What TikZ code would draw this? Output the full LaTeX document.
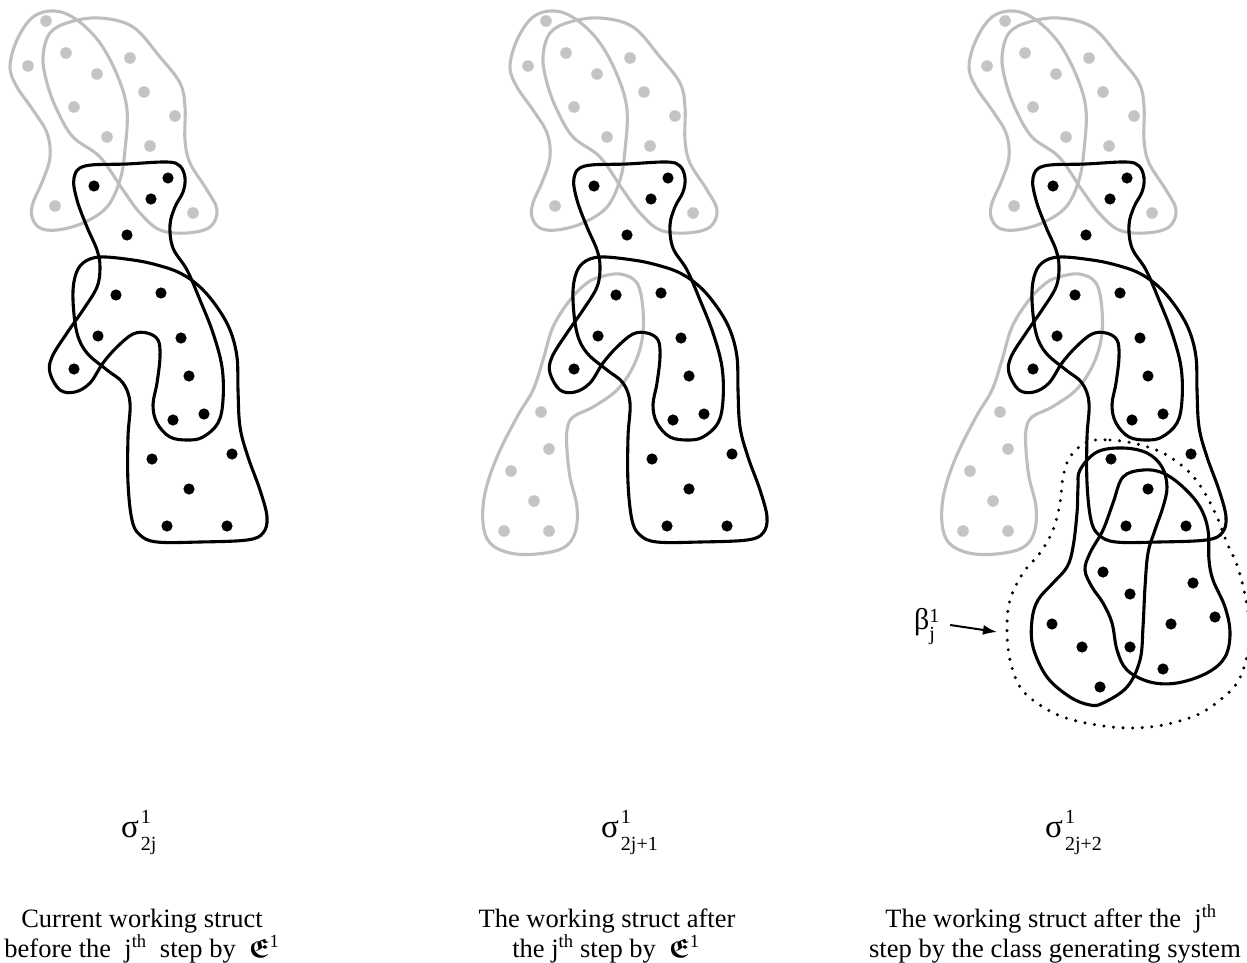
\documentclass[tikz,border=0pt]{standalone}
\usepackage{amsmath,amssymb}
\usepackage{fontspec}
\setmainfont{Liberation Serif}
\usetikzlibrary{arrows.meta,calc}
\definecolor{lightgr}{RGB}{190,190,190}
\definecolor{dotgr}{RGB}{196,196,196}
\newcommand\fkE{$\boldsymbol{\mathfrak{E}}$\textsuperscript{1}}
\newcommand\sigmalab[1]{{\fontsize{33}{33}\selectfont σ}\hspace{2pt}\rlap{\raisebox{14pt}{\fontsize{20}{20}\selectfont 1}}\raisebox{-13pt}{\fontsize{20}{20}\selectfont #1}}
\tikzset{
  blob/.style={draw=black, line width=3.1pt, line join=round},
  gblob/.style={draw=lightgr, line width=3.1pt, line join=round},
  encl/.style={draw=black, line width=3.4pt, line cap=round, dash pattern=on 0pt off 9.6pt},
  captext/.style={anchor=base, inner sep=0pt, font=\fontsize{26.5}{30}\selectfont},
  labtext/.style={anchor=base west, inner sep=0pt},
  arrline/.style={line width=2pt, -{Latex[length=14pt,width=10pt]}}
}
\newcommand\panelbase{%
  \draw[gblob] plot[smooth cycle, tension=0.6] coordinates {(55,11) (33,17) (17,40) (10,67) (17,87) (33,110) (47,133) (50,157) (43,180) (33,203) (32,217) (40,228) (57,230) (83,223) (107,207) (120,180) (125,150) (127,110) (118,77) (100,43) (77,20)};
  \draw[gblob] plot[smooth cycle, tension=0.6] coordinates {(100,18) (133,27) (160,57) (180,83) (185,107) (185,140) (190,163) (207,190) (217,210) (210,227) (187,233) (160,230) (140,213) (123,190) (100,157) (73,137) (57,110) (47,83) (43,57) (50,33) (70,22)};
  \foreach \x/\y in {46/21,66/53,28/66,130/58,97/74,144/92,74/107,175/116,107/137,150/146,55/206,193/213}
    \fill[dotgr] (\x,\y) circle[radius=5.8pt];
  \draw[blob] plot[smooth cycle, tension=0.6] coordinates {(74,178) (85,166) (127,164) (167,162) (180,166) (185,178) (183,192) (175,207) (170,225) (173,248) (187,270) (200,300) (213,333) (222,367) (223,400) (218,423) (203,437) (188,440) (170,437) (157,423) (153,405) (157,383) (160,357) (158,340) (147,333) (133,334) (117,347) (103,363) (90,383) (75,392) (60,390) (50,373) (52,357) (67,333) (83,310) (97,287) (100,267) (97,250) (87,227) (77,200)};
  \draw[blob] plot[smooth cycle, tension=0.6] coordinates {(100,257) (133,260) (157,265) (180,273) (200,287) (217,307) (230,330) (237,357) (238,390) (240,427) (248,457) (260,490) (267,517) (263,533) (247,540) (200,542) (157,542) (140,535) (132,520) (128,483) (128,437) (130,403) (123,383) (107,370) (87,353) (77,333) (73,300) (75,277) (83,263)};
  \foreach \x/\y in {94/186,168/178,151/199,127/235,116/295,161/293,98/336,181/338,74/369,189/376,173/420,204/414,152/459,232/454,189/489,167/526,227/526}
    \fill[black] (\x,\y) circle[radius=5.6pt];
}
\newcommand\lowergray{%
  \draw[gblob] plot[smooth cycle, tension=0.6] coordinates {(100,277) (120,274) (137,283) (143,310) (142,340) (133,367) (117,390) (93,407) (73,417) (67,430) (67,450) (70,477) (77,507) (75,533) (63,548) (37,554) (10,553) (-10,543) (-17,523) (-15,493) (-3,457) (17,417) (33,390) (43,360) (53,327) (70,300) (87,283)};
  \foreach \x/\y in {41/412,49/449,11/471,34/501,4/531,49/531}
    \fill[dotgr] (\x,\y) circle[radius=5.8pt];
}
\begin{document}
\begin{tikzpicture}[x=1pt,y=-1pt]
\useasboundingbox (0,0) rectangle (1247,963);
\begin{scope}
  \panelbase
\end{scope}
\begin{scope}[xshift=500pt]
  \lowergray
  \panelbase
\end{scope}
\begin{scope}[xshift=959pt]
  \lowergray
  \panelbase
\end{scope}
\draw[blob] plot[smooth cycle, tension=0.6] coordinates {(1080,470) (1097,452) (1123,448) (1147,453) (1162,467) (1167,487) (1163,507) (1155,530) (1148,553) (1145,587) (1143,627) (1140,660) (1127,687) (1103,703) (1090,705) (1070,697) (1047,677) (1033,647) (1032,620) (1038,600) (1053,583) (1067,567) (1073,547) (1077,513) (1078,487)};
\draw[blob] plot[smooth cycle, tension=0.6] coordinates {(1123,477) (1143,470) (1163,473) (1183,487) (1200,507) (1208,530) (1209,560) (1213,580) (1225,607) (1230,633) (1225,657) (1207,673) (1177,683) (1150,682) (1127,670) (1117,650) (1112,623) (1103,603) (1092,587) (1085,570) (1090,553) (1103,530) (1113,503)};
\foreach \x/\y in {1103/572,1130/594,1193/583,1215/617,1052/624,1171/624,1082/647,1130/647,1163/669,1100/687}
  \fill[black] (\x,\y) circle[radius=5.6pt];
\draw[encl] plot[smooth cycle, tension=0.6] coordinates {(1087,442) (1110,440) (1137,444) (1163,453) (1187,470) (1203,490) (1217,517) (1227,543) (1237,565) (1245,595) (1250,630) (1246,660) (1237,683) (1220,700) (1197,715) (1163,725) (1130,728) (1097,725) (1063,717) (1037,703) (1020,687) (1010,660) (1007,630) (1010,600) (1023,573) (1040,553) (1053,530) (1060,503) (1063,477) (1070,457)};
\node[labtext] (beta) at (914,629) {{\fontsize{30}{30}\selectfont β}\rlap{\raisebox{7pt}{\fontsize{20}{20}\selectfont 1}}\raisebox{-11pt}{\fontsize{20}{20}\selectfont j}};
\coordinate (betatip) at (997,632);
\draw[arrline] ($(beta.base east)+(15,-4)$) -- (betatip);
\node[labtext] (sig1) at (121,837) {\sigmalab{2j}};
\node[labtext] (sig2) at (601,837) {\sigmalab{2j+1}};
\node[labtext] (sig3) at (1045,837) {\sigmalab{2j+2}};
\node[captext] (c1a) at (142,927) {Current working struct};
\node[captext] (c1b) at (142,957) {before the\ \ j\textsuperscript{th}\ \ step by\ \ \fkE};
\node[captext] (c2a) at (607,927) {The working struct after};
\node[captext] (c2b) at (606,957) {the j\textsuperscript{th} step by\ \ \fkE};
\node[captext] (c3a) at (1051,927) {The working struct after the\ \ j\textsuperscript{th}};
\node[captext] (c3b) at (1055,957) {step by the class generating system};
\end{tikzpicture}
\end{document}
